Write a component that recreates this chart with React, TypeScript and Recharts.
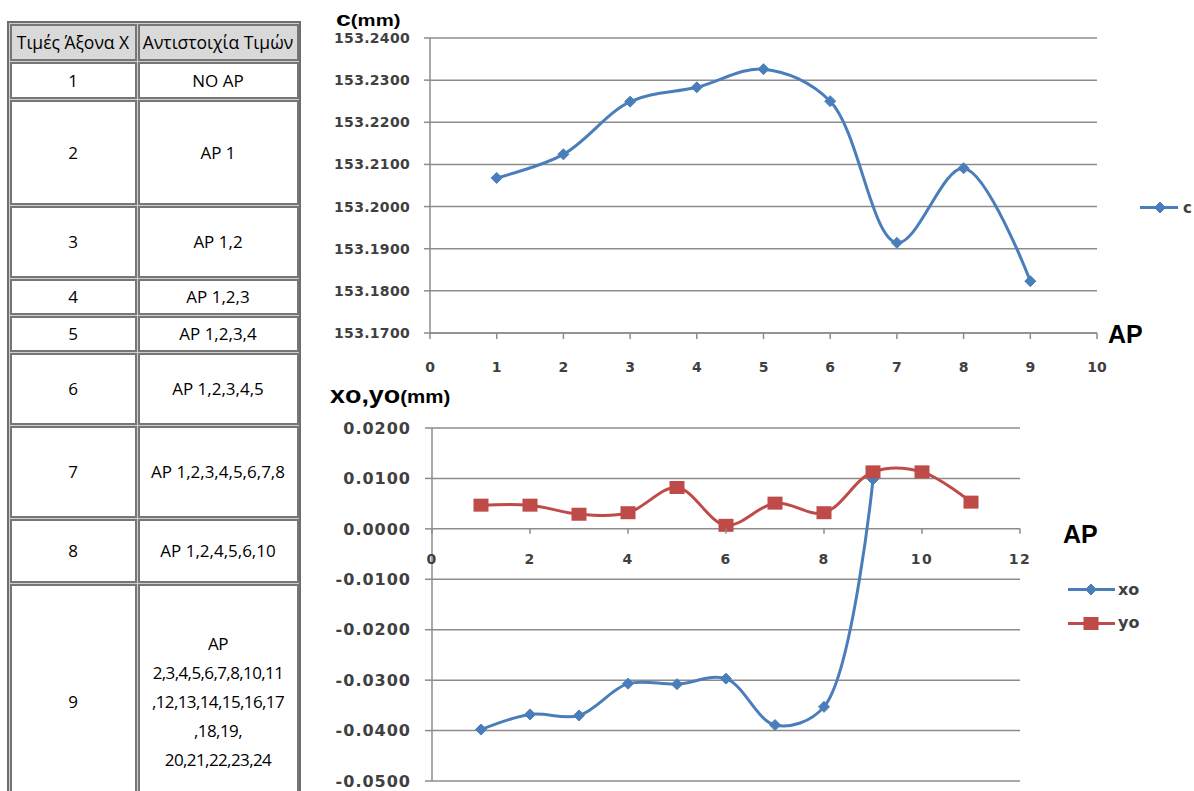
import React from 'react';
import { LineChart, Line, XAxis, YAxis, CartesianGrid } from 'recharts';

// ---- data ----
const apX = [1, 2, 3, 4, 5, 6, 7, 8, 9];
const cValues = [153.2068, 153.2124, 153.2249, 153.2283, 153.2326, 153.225, 153.1914, 153.2091, 153.1823];
const cTicksY = [153.17, 153.18, 153.19, 153.2, 153.21, 153.22, 153.23, 153.24];
const cTicksX = [0, 1, 2, 3, 4, 5, 6, 7, 8, 9, 10];

const offsetX = [1, 2, 3, 4, 5, 6, 7, 8, 9, 10, 11];
const xoValues = [-0.0398, -0.0368, -0.037, -0.0307, -0.0308, -0.0297, -0.0389, -0.0353, 0.0098];
const yoValues = [0.0047, 0.0047, 0.0029, 0.0032, 0.0082, 0.0007, 0.0051, 0.0032, 0.0113, 0.0113, 0.0053];
const offsetTicksY = [-0.05, -0.04, -0.03, -0.02, -0.01, 0, 0.01, 0.02];
const offsetTicksX = [0, 2, 4, 6, 8, 10, 12];

const tableHeader = ['Τιμές Άξονα Χ', 'Αντιστοιχία Τιμών'];
const tableX = ['1', '2', '3', '4', '5', '6', '7', '8', '9'];
const tableMap = [
  'NO AP',
  'AP 1',
  'AP 1,2',
  'AP 1,2,3',
  'AP 1,2,3,4',
  'AP 1,2,3,4,5',
  'AP 1,2,3,4,5,6,7,8',
  'AP 1,2,4,5,6,10',
  'AP\n2,3,4,5,6,7,8,10,11\n,12,13,14,15,16,17\n,18,19,\n20,21,22,23,24',
];

const cData = apX.map((x, i) => ({ x, c: cValues[i] }));
const offsetData = offsetX.map((x, i) => ({ x, xo: xoValues[i] ?? null, yo: yoValues[i] }));

// ---- style ----
const BLUE = '#4a7ebb';
const RED = '#be4b48';
const GRID = '#8c8c8c';
const LABEL = '#404040';
const TICK_FONT = 'DejaVu Sans, Verdana, sans-serif';
const TITLE_FONT = 'Liberation Sans, Arial, sans-serif';

// table layout
const ROW_EDGES = [23, 61, 99, 205, 278, 315, 352, 425, 518, 583, 820];
const COL_EDGES = [9, 137, 299];

// bottom chart layout (needed to put the x axis labels on the y = 0 line)
const B_H = 399;
const B_MARGIN = { top: 38, right: 174, bottom: 0, left: 0 };
const B_XAXIS_H = 8;
const B_PLOT_H = B_H - B_MARGIN.top - B_MARGIN.bottom - B_XAXIS_H;
const B_MIN = offsetTicksY[0];
const B_MAX = offsetTicksY[offsetTicksY.length - 1];
const ZERO_FROM_BOTTOM = (B_PLOT_H * (0 - B_MIN)) / (B_MAX - B_MIN);

// smoothed line close to Excel's: centripetal Catmull-Rom, as cubic beziers
function excelSmooth(context: any) {
  let pts: number[][] = [];
  const alpha = 0.5;
  return {
    areaStart() {},
    areaEnd() {},
    lineStart() {
      pts = [];
    },
    lineEnd() {
      const n = pts.length;
      if (!n) return;
      context.moveTo(pts[0][0], pts[0][1]);
      for (let i = 0; i < n - 1; i++) {
        const p0 = pts[i - 1] || pts[i];
        const p1 = pts[i];
        const p2 = pts[i + 1];
        const p3 = pts[i + 2] || p2;
        const d01 = Math.hypot(p1[0] - p0[0], p1[1] - p0[1]);
        const d12 = Math.hypot(p2[0] - p1[0], p2[1] - p1[1]);
        const d23 = Math.hypot(p3[0] - p2[0], p3[1] - p2[1]);
        const l01a = Math.pow(d01, alpha);
        const l01_2a = Math.pow(d01, 2 * alpha);
        const l12a = Math.pow(d12, alpha);
        const l12_2a = Math.pow(d12, 2 * alpha);
        const l23a = Math.pow(d23, alpha);
        const l23_2a = Math.pow(d23, 2 * alpha);
        let x1 = p1[0];
        let y1 = p1[1];
        let x2 = p2[0];
        let y2 = p2[1];
        if (l01a > 1e-9) {
          const a = 2 * l01_2a + 3 * l01a * l12a + l12_2a;
          const m = 3 * l01a * (l01a + l12a);
          x1 = (p1[0] * a - p0[0] * l12_2a + p2[0] * l01_2a) / m;
          y1 = (p1[1] * a - p0[1] * l12_2a + p2[1] * l01_2a) / m;
        }
        if (l23a > 1e-9) {
          const b = 2 * l23_2a + 3 * l23a * l12a + l12_2a;
          const m = 3 * l23a * (l23a + l12a);
          x2 = (p2[0] * b + p1[0] * l23_2a - p3[0] * l12_2a) / m;
          y2 = (p2[1] * b + p1[1] * l23_2a - p3[1] * l12_2a) / m;
        }
        context.bezierCurveTo(x1, y1, x2, y2, p2[0], p2[1]);
      }
    },
    point(x: number, y: number) {
      pts.push([+x, +y]);
    },
  };
}

function diamond(props: any) {
  const { cx, cy, index } = props;
  if (cx == null || cy == null || props.value == null) return <g key={`d-${index}`} />;
  const r = 5.5;
  return (
    <polygon
      key={`d-${index}`}
      points={`${cx},${cy - r} ${cx + r},${cy} ${cx},${cy + r} ${cx - r},${cy}`}
      fill={BLUE}
      stroke={BLUE}
    />
  );
}

function square(props: any) {
  const { cx, cy, index } = props;
  if (cx == null || cy == null || props.value == null) return <g key={`s-${index}`} />;
  return <rect key={`s-${index}`} x={cx - 7.5} y={cy - 6.5} width={15} height={13} fill={RED} />;
}

function ZeroLineTick(props: any) {
  const { x, y, payload } = props;
  const zy = y - ZERO_FROM_BOTTOM;
  return (
    <g>
      <line x1={x} x2={x} y1={zy} y2={zy + 5} stroke={GRID} strokeWidth={1.5} />
      <text
        x={x}
        y={zy + 35}
        textAnchor="middle"
        fill={LABEL}
        fontSize={14}
        fontWeight="bold"
        fontFamily={TICK_FONT}
        letterSpacing={1.5}
      >
        {payload.value}
      </text>
    </g>
  );
}

function Table() {
  const cells: React.ReactNode[] = [];
  const rows = [tableHeader, ...tableX.map((x, i) => [x, tableMap[i]])];
  rows.forEach((row, r) => {
    row.forEach((txt, c) => {
      const multi = txt.includes('\n');
      cells.push(
        <div
          key={`${r}-${c}`}
          style={{
            position: 'absolute',
            left: COL_EDGES[c] + 0.5,
            top: ROW_EDGES[r] + 0.5,
            width: COL_EDGES[c + 1] - COL_EDGES[c] - 1,
            height: ROW_EDGES[r + 1] - ROW_EDGES[r] - 1,
            boxSizing: 'border-box',
            border: '2px solid #767676',
            background: r === 0 ? '#d9d9d9' : '#fff',
            display: 'flex',
            alignItems: 'center',
            justifyContent: 'center',
            textAlign: 'center',
            whiteSpace: 'pre',
            lineHeight: '29px',
            fontFamily: 'Open Sans, sans-serif',
            fontSize: r === 0 ? 17.5 : 17,
            letterSpacing: multi ? -0.6 : 0,
            color: '#000',
          }}
        >
          {txt}
        </div>,
      );
    });
  });
  return (
    <>
      <div
        style={{
          position: 'absolute',
          left: COL_EDGES[0] - 2,
          top: ROW_EDGES[0] - 2,
          width: COL_EDGES[2] - COL_EDGES[0] + 4,
          height: 820,
          boxSizing: 'border-box',
          border: '2px solid #6e6e6e',
          background: '#cfcfcf',
        }}
      />
      {cells}
    </>
  );
}

export default function App() {
  return (
    <div
      style={{
        position: 'absolute',
        left: 0,
        top: 0,
        width: 1194,
        height: 791,
        overflow: 'hidden',
        background: '#fff',
      }}
    >
      <Table />

      <div style={{ position: 'absolute', left: 320, top: 0 }}>
        <LineChart width={874} height={390} data={cData} margin={{ top: 38, right: 97, bottom: 12, left: 0 }}>
          <CartesianGrid horizontal vertical={false} stroke={GRID} strokeWidth={1.5} />
          <XAxis
            dataKey="x"
            type="number"
            domain={[0, 10]}
            ticks={cTicksX}
            interval={0}
            height={45}
            axisLine={{ stroke: GRID, strokeWidth: 1.5 }}
            tickLine={{ stroke: GRID, strokeWidth: 1.5 }}
            tickSize={6}
            tickMargin={23}
            tick={{ fill: LABEL, fontSize: 14, fontWeight: 'bold', fontFamily: TICK_FONT }}
          />
          <YAxis
            type="number"
            domain={[153.17, 153.24]}
            ticks={cTicksY}
            interval={0}
            width={110}
            tickFormatter={(v: number) => v.toFixed(4)}
            axisLine={{ stroke: GRID, strokeWidth: 1.5 }}
            tickLine={{ stroke: GRID, strokeWidth: 1.5 }}
            tickSize={6}
            tickMargin={14}
            tick={{ fill: LABEL, fontSize: 14, fontWeight: 'bold', fontFamily: TICK_FONT, letterSpacing: 0.3 }}
          />
          <Line
            dataKey="c"
            type={excelSmooth as any}
            stroke={BLUE}
            strokeWidth={3}
            dot={diamond}
            activeDot={false}
            isAnimationActive={false}
          />
        </LineChart>
      </div>

      <div style={{ position: 'absolute', left: 320, top: 390 }}>
        <LineChart width={874} height={B_H} data={offsetData} margin={B_MARGIN}>
          <CartesianGrid horizontal vertical={false} stroke={GRID} strokeWidth={1.5} />
          <XAxis
            dataKey="x"
            type="number"
            domain={[0, 12]}
            ticks={offsetTicksX}
            interval={0}
            height={B_XAXIS_H}
            axisLine={false}
            tickLine={false}
            tickSize={0}
            tickMargin={0}
            tick={<ZeroLineTick />}
          />
          <YAxis
            type="number"
            domain={[B_MIN, B_MAX]}
            ticks={offsetTicksY}
            interval={0}
            width={112}
            tickFormatter={(v: number) => v.toFixed(4)}
            axisLine={{ stroke: GRID, strokeWidth: 1.5 }}
            tickLine={{ stroke: GRID, strokeWidth: 1.5 }}
            tickSize={7}
            tickMargin={14}
            tick={{ fill: LABEL, fontSize: 16, fontWeight: 'bold', fontFamily: TICK_FONT, letterSpacing: 1 }}
          />
          <Line
            dataKey="xo"
            type={excelSmooth as any}
            stroke={BLUE}
            strokeWidth={3}
            dot={diamond}
            activeDot={false}
            isAnimationActive={false}
          />
          <Line
            dataKey="yo"
            type={excelSmooth as any}
            stroke={RED}
            strokeWidth={3}
            dot={square}
            activeDot={false}
            isAnimationActive={false}
          />
        </LineChart>
      </div>

      <svg
        width={1194}
        height={791}
        style={{ position: 'absolute', left: 0, top: 0, pointerEvents: 'none' }}
      >
        <g transform="translate(336,25.5) scale(1.27,1)">
          <text fontFamily={TITLE_FONT} fontWeight="bold" fill="#000">
            <tspan fontSize={21}>c</tspan>
            <tspan fontSize={16}>(mm)</tspan>
          </text>
        </g>
        <text x={1108} y={343} fontFamily={TITLE_FONT} fontWeight="bold" fontSize={25} fill="#000">
          AP
        </text>

        <g transform="translate(330,402.5) scale(1.17,1)">
          <text fontFamily={TITLE_FONT} fontWeight="bold" fill="#000">
            <tspan fontSize={23}>xo,yo</tspan>
            <tspan fontSize={17.5}>(mm)</tspan>
          </text>
        </g>
        <text x={1063} y={542.5} fontFamily={TITLE_FONT} fontWeight="bold" fontSize={25} fill="#000">
          AP
        </text>

        {/* legend, top chart */}
        <line x1={1140} x2={1178} y1={207.5} y2={207.5} stroke={BLUE} strokeWidth={3} />
        {diamond({ cx: 1160, cy: 207.5, index: 'lc', value: 1 })}
        <text x={1183} y={213} fontFamily={TICK_FONT} fontWeight="bold" fontSize={15} fill={LABEL}>
          c
        </text>

        {/* legend, bottom chart */}
        <line x1={1068} x2={1115} y1={589.5} y2={589.5} stroke={BLUE} strokeWidth={3} />
        {diamond({ cx: 1091, cy: 589.5, index: 'lxo', value: 1 })}
        <text x={1118} y={594.5} fontFamily={TICK_FONT} fontWeight="bold" fontSize={16} fill={LABEL}>
          xo
        </text>
        <line x1={1068} x2={1115} y1={623.5} y2={623.5} stroke={RED} strokeWidth={3} />
        {square({ cx: 1091, cy: 623.5, index: 'lyo', value: 1 })}
        <text x={1118} y={628} fontFamily={TICK_FONT} fontWeight="bold" fontSize={16} fill={LABEL}>
          yo
        </text>
      </svg>
    </div>
  );
}
